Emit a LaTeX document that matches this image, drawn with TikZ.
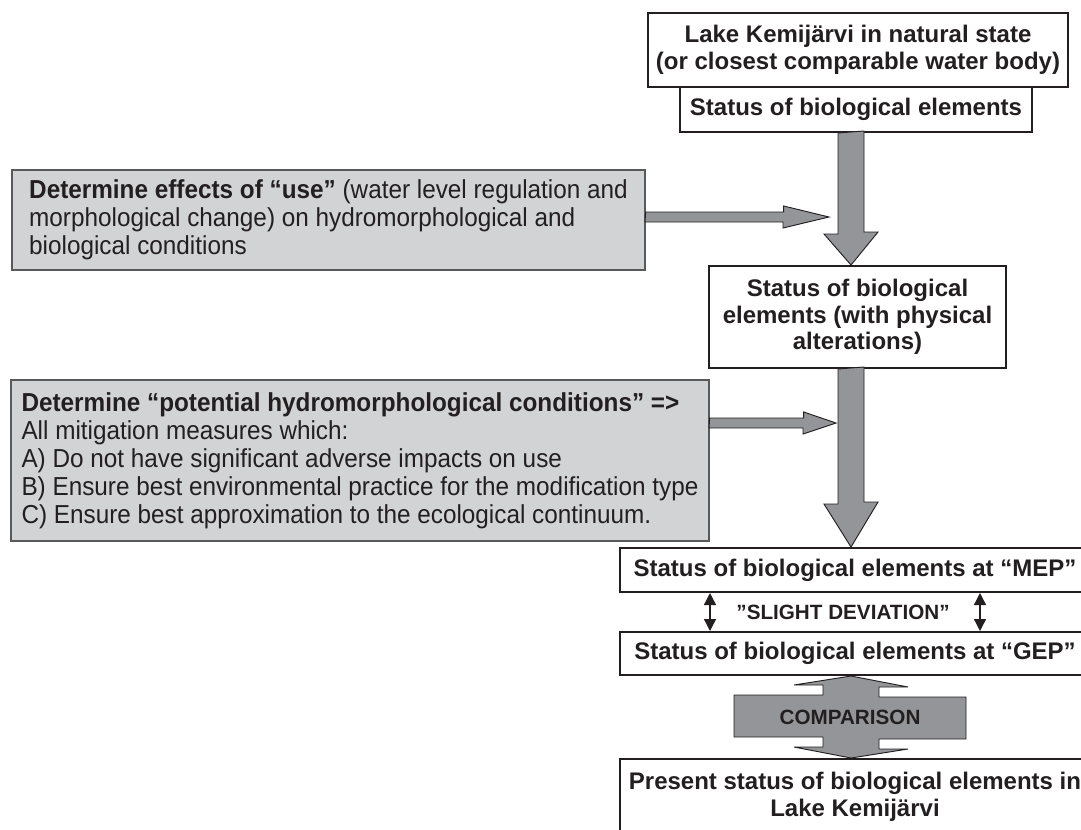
\documentclass[tikz,border=0pt]{standalone}
\usepackage{fontspec}
\setmainfont{Liberation Sans}
\newfontfamily\narrowfont[FakeStretch=0.935]{Liberation Sans}
\usepackage{tikz}
\usetikzlibrary{calc,arrows.meta}

\definecolor{ink}{RGB}{35,31,32}
\definecolor{panel}{RGB}{209,211,212}
\definecolor{panelline}{RGB}{88,89,91}
\definecolor{arrowgray}{RGB}{147,149,152}

\begin{document}
\begin{tikzpicture}[x=0.75pt,y=-0.75pt,
  statebox/.style={draw=ink,line width=1.5pt,fill=white,inner sep=0pt,align=center,text=ink,
    font=\bfseries\fontsize{18}{20}\selectfont},
  usebox/.style={draw=panelline,line width=1pt,fill=panel,inner sep=0pt,align=left,text=ink,
    font=\narrowfont\fontsize{19.5}{21}\selectfont},
  blockarrow/.style={draw=ink,line width=0.7pt,fill=arrowgray},
  devarrow/.style={{Triangle[length=9pt,width=9pt]}-{Triangle[length=9pt,width=9pt]},ink,line width=1pt},
  smalllabel/.style={text=ink,font=\bfseries\fontsize{15.5}{17}\selectfont}]
  \useasboundingbox (0,0) rectangle (1081,829);

  % right column
  \node[statebox,minimum width=315pt,minimum height=55.5pt] (nat) at (858,50)
    {Lake Kemijärvi in natural state\\(or closest comparable water body)};
  \node[statebox,minimum width=264pt,minimum height=33.75pt] (bio) at (856,109.5)
    {Status of biological elements};
  \node[statebox,minimum width=222.75pt,minimum height=76.5pt] (alt) at (857.5,317)
    {Status of biological\\elements (with physical\\alterations)};
  \node[statebox,minimum width=352.5pt,minimum height=33pt] (mep) at (855,570)
    {Status of biological elements at “MEP”};
  \node[statebox,minimum width=352.5pt,minimum height=32.25pt] (gep) at (855,653.5)
    {Status of biological elements at “GEP”};
  \node[statebox,minimum width=352.5pt,minimum height=57pt] (now) at (855,797)
    {Present status of biological elements in\\Lake Kemijärvi};

  % left column
  \node[usebox,minimum width=474.75pt,minimum height=75pt] (use) at (328.5,220)
    {\textbf{Determine effects of “use”} (water level regulation and\\
     morphological change) on hydromorphological and\\
     biological conditions};
  \node[usebox,minimum width=523.5pt,minimum height=120.75pt] (pot) at (360,460.5)
    {\textbf{Determine “potential hydromorphological conditions” =>}\\
     All mitigation measures which:\\
     A) Do not have significant adverse impacts on use\\
     B) Ensure best environmental practice for the modification type\\
     C) Ensure best approximation to the ecological continuum.};

  \coordinate (axis) at (851,0);
  \coordinate (j1) at (829,217);
  \coordinate (j2) at (836,423);
  \coordinate (dl) at (710,0);
  \coordinate (dr) at (980,0);

  % block arrows
  \draw[blockarrow] (bio.south -| axis) ++(-13,0) -- ++(0,101) -- ++(-14,0)
    -- (alt.north -| axis) -- ++(27,-33) -- ++(-14,0) -- ++(0,-101) -- cycle;
  \draw[blockarrow] (alt.south -| axis) ++(-13,0) -- ++(0,135) -- ++(-14,0)
    -- (mep.north -| axis) -- ++(27,-45) -- ++(-14,0) -- ++(0,-135) -- cycle;
  \draw[blockarrow] ($(use.east)+(0,-3)$) ++(0,-5) -- ++(138,0) -- ++(0,-6)
    -- (j1) -- ++(-46,11) -- ++(0,-6) -- ++(-138,0) -- cycle;
  \draw[blockarrow] ($(pot.east)+(0,-37.5)$) ++(0,-5) -- ++(94,0) -- ++(0,-6)
    -- (j2) -- ++(-33,11) -- ++(0,-6) -- ++(-94,0) -- cycle;

  % slight deviation
  \draw[devarrow] (mep.south -| dl) -- (gep.north -| dl);
  \draw[devarrow] (mep.south -| dr) -- (gep.north -| dr);
  \node[smalllabel] (dev) at (843,612) {”SLIGHT DEVIATION”};

  % comparison
  \draw[blockarrow] (gep.south -| axis) -- ++(57,11) -- ++(-29,0) -- ++(0,10) -- ++(87,0)
    -- ++(0,42) -- ++(-87,0) -- ++(0,10) -- ++(29,0) -- (now.north -| axis)
    -- ++(-57,-11) -- ++(29,0) -- ++(0,-10) -- ++(-89,0) -- ++(0,-42) -- ++(89,0)
    -- ++(0,-10) -- ++(-29,0) -- cycle;
  \node[smalllabel] (cmp) at (850,717) {COMPARISON};
\end{tikzpicture}
\end{document}
